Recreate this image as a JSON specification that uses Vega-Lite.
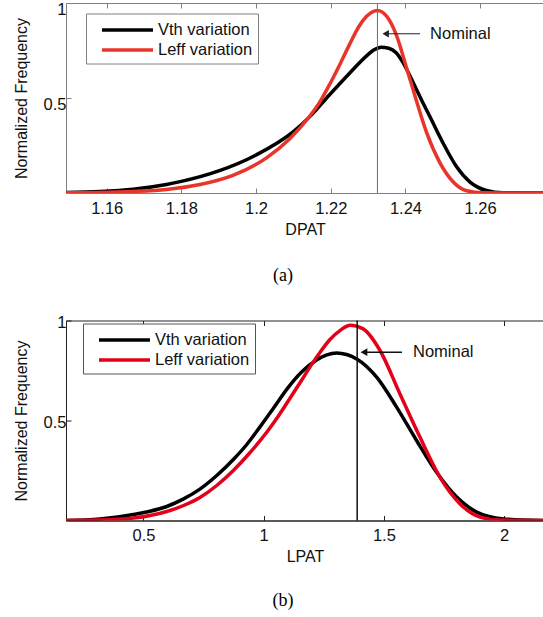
{
  "$schema": "https://vega.github.io/schema/vega-lite/v6.json",
  "padding": {"left": 12, "top": 0, "right": 0, "bottom": 0},
  "bounds": "flush",
  "spacing": 127.5,
  "config": {
    "font": "Liberation Sans",
    "axis": {"labelFont": "Liberation Sans", "titleFont": "Liberation Sans", "labelFontSize": 16.5, "titleFontSize": 16, "titleFontWeight": "normal", "grid": false, "labelColor": "#111", "titleColor": "#111"},
    "legend": {"labelFont": "Liberation Sans", "labelFontSize": 16.5, "labelColor": "#111"},
    "title": {"font": "Liberation Serif", "fontSize": 18, "fontWeight": "normal", "color": "#000"}
  },
  "resolve": {"scale": {"color": "independent"}, "legend": {"color": "independent"}},
  "vconcat": [
    {
      "width": 478, "height": 190,
      "view": {"stroke": "#808080", "strokeWidth": 1},
      "title": {"text": "(a)", "orient": "bottom", "offset": 30, "dx": -22},
      "layer": [
        {
          "data": {"values": [
            {"v": 1.1491, "f": 0.003, "s": "Vth variation"},
            {"v": 1.1582, "f": 0.008, "s": "Vth variation"},
            {"v": 1.1671, "f": 0.02, "s": "Vth variation"},
            {"v": 1.176, "f": 0.045, "s": "Vth variation"},
            {"v": 1.18, "f": 0.061, "s": "Vth variation"},
            {"v": 1.19, "f": 0.116, "s": "Vth variation"},
            {"v": 1.2, "f": 0.2, "s": "Vth variation"},
            {"v": 1.21, "f": 0.323, "s": "Vth variation"},
            {"v": 1.2144, "f": 0.402, "s": "Vth variation"},
            {"v": 1.2198, "f": 0.52, "s": "Vth variation"},
            {"v": 1.2251, "f": 0.632, "s": "Vth variation"},
            {"v": 1.2296, "f": 0.722, "s": "Vth variation"},
            {"v": 1.2315, "f": 0.752, "s": "Vth variation"},
            {"v": 1.2335, "f": 0.767, "s": "Vth variation"},
            {"v": 1.2355, "f": 0.762, "s": "Vth variation"},
            {"v": 1.2375, "f": 0.738, "s": "Vth variation"},
            {"v": 1.2394, "f": 0.685, "s": "Vth variation"},
            {"v": 1.2421, "f": 0.58, "s": "Vth variation"},
            {"v": 1.2443, "f": 0.49, "s": "Vth variation"},
            {"v": 1.2466, "f": 0.4, "s": "Vth variation"},
            {"v": 1.2501, "f": 0.262, "s": "Vth variation"},
            {"v": 1.2537, "f": 0.138, "s": "Vth variation"},
            {"v": 1.2573, "f": 0.057, "s": "Vth variation"},
            {"v": 1.2617, "f": 0.013, "s": "Vth variation"},
            {"v": 1.2662, "f": 0.001, "s": "Vth variation"},
            {"v": 1.2771, "f": 0, "s": "Vth variation"},
            {"v": 1.1491, "f": 0.001, "s": "Leff variation"},
            {"v": 1.1582, "f": 0.003, "s": "Leff variation"},
            {"v": 1.1671, "f": 0.008, "s": "Leff variation"},
            {"v": 1.176, "f": 0.019, "s": "Leff variation"},
            {"v": 1.185, "f": 0.045, "s": "Leff variation"},
            {"v": 1.1938, "f": 0.093, "s": "Leff variation"},
            {"v": 1.2028, "f": 0.185, "s": "Leff variation"},
            {"v": 1.2091, "f": 0.287, "s": "Leff variation"},
            {"v": 1.2144, "f": 0.405, "s": "Leff variation"},
            {"v": 1.217, "f": 0.477, "s": "Leff variation"},
            {"v": 1.2198, "f": 0.575, "s": "Leff variation"},
            {"v": 1.2225, "f": 0.679, "s": "Leff variation"},
            {"v": 1.2251, "f": 0.785, "s": "Leff variation"},
            {"v": 1.2275, "f": 0.875, "s": "Leff variation"},
            {"v": 1.2296, "f": 0.93, "s": "Leff variation"},
            {"v": 1.2311, "f": 0.953, "s": "Leff variation"},
            {"v": 1.2325, "f": 0.961, "s": "Leff variation"},
            {"v": 1.235, "f": 0.93, "s": "Leff variation"},
            {"v": 1.2376, "f": 0.83, "s": "Leff variation"},
            {"v": 1.2403, "f": 0.658, "s": "Leff variation"},
            {"v": 1.243, "f": 0.482, "s": "Leff variation"},
            {"v": 1.2457, "f": 0.316, "s": "Leff variation"},
            {"v": 1.2492, "f": 0.16, "s": "Leff variation"},
            {"v": 1.2528, "f": 0.058, "s": "Leff variation"},
            {"v": 1.2564, "f": 0.012, "s": "Leff variation"},
            {"v": 1.2608, "f": 0.001, "s": "Leff variation"},
            {"v": 1.2771, "f": 0, "s": "Leff variation"}
          ]},
          "mark": {"type": "line", "strokeWidth": 3.5, "clip": true, "interpolate": "monotone"},
          "encoding": {
            "x": {"field": "v", "type": "quantitative",
                  "scale": {"domain": [1.1491, 1.2771], "nice": false, "zero": false},
                  "axis": {"title": "DPAT", "values": [1.16, 1.18, 1.2, 1.22, 1.24, 1.26], "format": ".2~f", "tickSize": -5, "tickColor": "#808080", "domainColor": "#808080", "labelPadding": 12.5, "titlePadding": 4}},
            "y": {"field": "f", "type": "quantitative",
                  "scale": {"domain": [0, 1], "nice": false},
                  "axis": {"title": "Normalized Frequency", "values": [0.5, 1], "format": "~g", "labelExpr": "datum.value == 1 ? '1\u2007' : datum.label", "tickSize": -5, "tickColor": "#808080", "domainColor": "#808080", "labelPadding": 5, "labelOffset": 6, "titlePadding": 14}},
            "color": {"field": "s", "type": "nominal",
                      "scale": {"domain": ["Vth variation", "Leff variation"], "range": ["#000000", "#e9342a"]},
                      "legend": {"title": null, "orient": "none", "legendX": 20, "legendY": 10.5, "strokeColor": "#808080", "fillColor": "#ffffff", "padding": 5, "rowPadding": 0, "symbolType": "M-0.053,0H5.315", "symbolSize": 361, "symbolStrokeWidth": 3.5, "labelOffset": 44}}
          }
        },
        {
          "data": {"values": [{"v": 1.2325}]},
          "mark": {"type": "rule", "color": "#6e6e6e", "strokeWidth": 1},
          "encoding": {
            "x": {"field": "v", "type": "quantitative",
                  "axis": {"orient": "top", "title": null, "labels": false, "domain": false, "values": [1.16, 1.18, 1.2, 1.22, 1.24, 1.26], "tickSize": -5, "tickColor": "#808080"}}
          }
        },
        {
          "data": {"values": [{"v": 1.2347, "v2": 1.2439, "f": 0.838}]},
          "mark": {"type": "rule", "color": "#222222", "strokeWidth": 1},
          "encoding": {
            "x": {"field": "v", "type": "quantitative", "axis": null},
            "x2": {"field": "v2"},
            "y": {"field": "f", "type": "quantitative", "axis": null}
          }
        },
        {
          "data": {"values": [{"v": 1.2347, "f": 0.838}]},
          "mark": {"type": "point", "shape": "triangle-left", "filled": true, "color": "#222222", "size": 55, "opacity": 1},
          "encoding": {
            "x": {"field": "v", "type": "quantitative", "axis": null},
            "y": {"field": "f", "type": "quantitative", "axis": null}
          }
        },
        {
          "data": {"values": [{"v": 1.2466, "f": 0.838, "t": "Nominal"}]},
          "mark": {"type": "text", "align": "left", "baseline": "middle", "fontSize": 16.5, "font": "Liberation Sans", "color": "#111111"},
          "encoding": {
            "x": {"field": "v", "type": "quantitative", "axis": null},
            "y": {"field": "f", "type": "quantitative", "axis": null},
            "text": {"field": "t"}
          }
        }
      ],
      "resolve": {"axis": {"x": "independent", "y": "independent"}}
    },
    {
      "width": 478, "height": 200,
      "view": {"stroke": "#222222", "strokeWidth": 1},
      "title": {"text": "(b)", "orient": "bottom", "offset": 27, "dx": -22},
      "layer": [
        {
          "data": {"values": [
            {"v": 0.178, "f": 0, "s": "Vth variation"},
            {"v": 0.319, "f": 0.008, "s": "Vth variation"},
            {"v": 0.458, "f": 0.03, "s": "Vth variation"},
            {"v": 0.597, "f": 0.07, "s": "Vth variation"},
            {"v": 0.667, "f": 0.108, "s": "Vth variation"},
            {"v": 0.735, "f": 0.157, "s": "Vth variation"},
            {"v": 0.805, "f": 0.225, "s": "Vth variation"},
            {"v": 0.874, "f": 0.305, "s": "Vth variation"},
            {"v": 0.93, "f": 0.38, "s": "Vth variation"},
            {"v": 0.985, "f": 0.468, "s": "Vth variation"},
            {"v": 1.04, "f": 0.56, "s": "Vth variation"},
            {"v": 1.1, "f": 0.662, "s": "Vth variation"},
            {"v": 1.16, "f": 0.745, "s": "Vth variation"},
            {"v": 1.22, "f": 0.803, "s": "Vth variation"},
            {"v": 1.26, "f": 0.827, "s": "Vth variation"},
            {"v": 1.304, "f": 0.838, "s": "Vth variation"},
            {"v": 1.345, "f": 0.83, "s": "Vth variation"},
            {"v": 1.387, "f": 0.808, "s": "Vth variation"},
            {"v": 1.47, "f": 0.717, "s": "Vth variation"},
            {"v": 1.553, "f": 0.567, "s": "Vth variation"},
            {"v": 1.636, "f": 0.4, "s": "Vth variation"},
            {"v": 1.72, "f": 0.24, "s": "Vth variation"},
            {"v": 1.803, "f": 0.117, "s": "Vth variation"},
            {"v": 1.886, "f": 0.042, "s": "Vth variation"},
            {"v": 1.997, "f": 0.008, "s": "Vth variation"},
            {"v": 2.166, "f": 0, "s": "Vth variation"},
            {"v": 0.178, "f": 0, "s": "Leff variation"},
            {"v": 0.319, "f": 0.002, "s": "Leff variation"},
            {"v": 0.458, "f": 0.012, "s": "Leff variation"},
            {"v": 0.597, "f": 0.045, "s": "Leff variation"},
            {"v": 0.667, "f": 0.075, "s": "Leff variation"},
            {"v": 0.735, "f": 0.115, "s": "Leff variation"},
            {"v": 0.805, "f": 0.175, "s": "Leff variation"},
            {"v": 0.874, "f": 0.25, "s": "Leff variation"},
            {"v": 0.94, "f": 0.335, "s": "Leff variation"},
            {"v": 1.012, "f": 0.44, "s": "Leff variation"},
            {"v": 1.06, "f": 0.52, "s": "Leff variation"},
            {"v": 1.109, "f": 0.61, "s": "Leff variation"},
            {"v": 1.16, "f": 0.705, "s": "Leff variation"},
            {"v": 1.193, "f": 0.768, "s": "Leff variation"},
            {"v": 1.24, "f": 0.85, "s": "Leff variation"},
            {"v": 1.276, "f": 0.905, "s": "Leff variation"},
            {"v": 1.32, "f": 0.952, "s": "Leff variation"},
            {"v": 1.36, "f": 0.976, "s": "Leff variation"},
            {"v": 1.414, "f": 0.958, "s": "Leff variation"},
            {"v": 1.484, "f": 0.85, "s": "Leff variation"},
            {"v": 1.567, "f": 0.633, "s": "Leff variation"},
            {"v": 1.65, "f": 0.417, "s": "Leff variation"},
            {"v": 1.733, "f": 0.217, "s": "Leff variation"},
            {"v": 1.817, "f": 0.083, "s": "Leff variation"},
            {"v": 1.9, "f": 0.017, "s": "Leff variation"},
            {"v": 1.983, "f": 0.002, "s": "Leff variation"},
            {"v": 2.166, "f": 0, "s": "Leff variation"}
          ]},
          "mark": {"type": "line", "strokeWidth": 3.5, "clip": true, "interpolate": "monotone"},
          "encoding": {
            "x": {"field": "v", "type": "quantitative",
                  "scale": {"domain": [0.178, 2.166], "nice": false, "zero": false},
                  "axis": {"title": "LPAT", "values": [0.5, 1, 1.5, 2], "format": "~g", "tickSize": -5, "tickColor": "#222222", "domainColor": "#222222", "labelPadding": 11.5, "titlePadding": 5}},
            "y": {"field": "f", "type": "quantitative",
                  "scale": {"domain": [0, 1], "nice": false},
                  "axis": {"title": "Normalized Frequency", "values": [0.5, 1], "format": "~g", "labelExpr": "datum.value == 1 ? '1\u2007' : datum.label", "tickSize": -5, "tickColor": "#222222", "domainColor": "#222222", "labelPadding": 5, "labelOffset": 2, "titlePadding": 14}},
            "color": {"field": "s", "type": "nominal",
                      "scale": {"domain": ["Vth variation", "Leff variation"], "range": ["#000000", "#e2001a"]},
                      "legend": {"title": null, "orient": "none", "legendX": 17, "legendY": 3, "strokeColor": "#555555", "fillColor": "#ffffff", "padding": 5, "rowPadding": 0, "symbolType": "M-0.053,0H5.315", "symbolSize": 361, "symbolStrokeWidth": 3.5, "labelOffset": 44}}
          }
        },
        {
          "data": {"values": [{"v": 1.389}]},
          "mark": {"type": "rule", "color": "#111111", "strokeWidth": 1.5},
          "encoding": {
            "x": {"field": "v", "type": "quantitative",
                  "axis": {"orient": "top", "title": null, "labels": false, "domain": false, "values": [0.5, 1, 1.5, 2], "tickSize": -5, "tickColor": "#222222"}}
          }
        },
        {
          "data": {"values": [{"v": 1.4172, "v2": 1.5753, "f": 0.8415}]},
          "mark": {"type": "rule", "color": "#111111", "strokeWidth": 1.5},
          "encoding": {
            "x": {"field": "v", "type": "quantitative", "axis": null},
            "x2": {"field": "v2"},
            "y": {"field": "f", "type": "quantitative", "axis": null}
          }
        },
        {
          "data": {"values": [{"v": 1.4172, "f": 0.8415}]},
          "mark": {"type": "point", "shape": "triangle-left", "filled": true, "color": "#111111", "size": 60, "opacity": 1},
          "encoding": {
            "x": {"field": "v", "type": "quantitative", "axis": null},
            "y": {"field": "f", "type": "quantitative", "axis": null}
          }
        },
        {
          "data": {"values": [{"v": 1.6211, "f": 0.8415, "t": "Nominal"}]},
          "mark": {"type": "text", "align": "left", "baseline": "middle", "fontSize": 16.5, "font": "Liberation Sans", "color": "#111111"},
          "encoding": {
            "x": {"field": "v", "type": "quantitative", "axis": null},
            "y": {"field": "f", "type": "quantitative", "axis": null},
            "text": {"field": "t"}
          }
        }
      ],
      "resolve": {"axis": {"x": "independent", "y": "independent"}}
    }
  ]
}
